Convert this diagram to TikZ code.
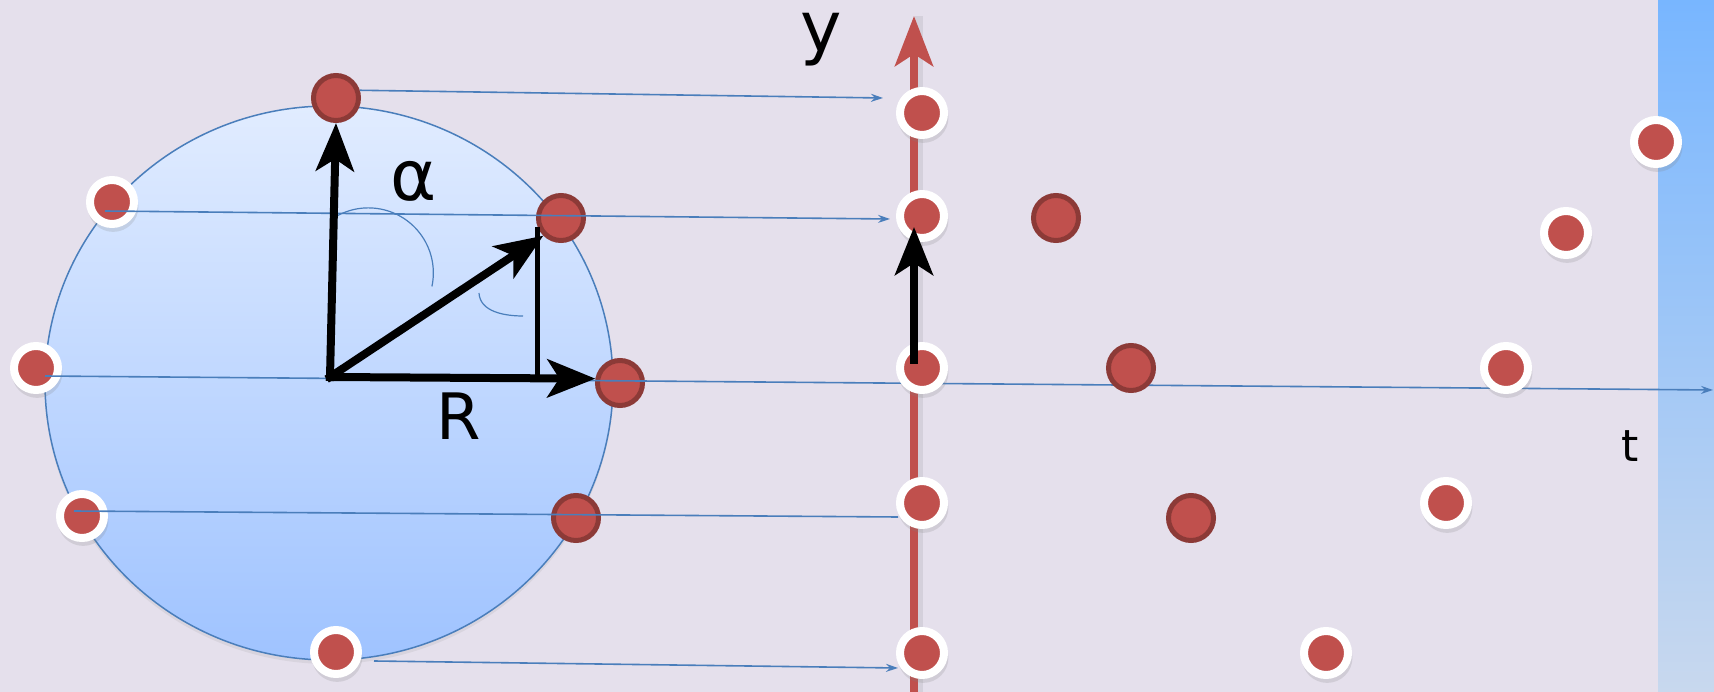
\documentclass[tikz,border=0pt]{standalone}
\usepackage{fontspec}
\setmainfont{DejaVu Sans}
\usetikzlibrary{arrows.meta,positioning,shadows}

\definecolor{bgcol}{HTML}{E5E0EC}
\definecolor{dotred}{HTML}{C0504D}
\definecolor{dotdark}{HTML}{8C3A37}
\definecolor{linecol}{HTML}{4A7EBB}
\definecolor{disctop}{HTML}{E1ECFF}
\definecolor{discbot}{HTML}{9FC3FF}
\definecolor{bandtop}{HTML}{78B6FF}
\definecolor{bandbot}{HTML}{C8D8EE}

\pgfdeclarelayer{bg}
\pgfdeclarelayer{mid}
\pgfsetlayers{bg,mid,main}

\begin{document}
\begin{tikzpicture}[
	x=1pt, y=-1pt,
	>={Stealth[length=12pt, width=8pt]},
	ball/.style={circle, draw=dotdark, fill=dotred, line width=5pt, minimum size=45pt, inner sep=0pt},
	ring/.style={circle, draw=white, fill=dotred, line width=8pt, minimum size=44pt, inner sep=0pt,
		drop shadow={shadow xshift=1pt, shadow yshift=-4pt, shadow scale=1.15, opacity=0.2}},
	proj/.style={draw=linecol, line width=1.6pt},
	vec/.style={line width=8pt, line cap=rect, -{Stealth[length=48pt, width=38pt, inset=12pt]}},
	axis/.style={draw=dotred, line width=8pt, -{Stealth[length=50pt, width=38pt, inset=12pt]}},
	lbl/.style={font=\fontsize{64}{77}\selectfont, inner sep=0pt, anchor=base}
]
\useasboundingbox (0,0) rectangle (1714,692);

\begin{pgfonlayer}{bg}
\fill[bgcol] (0,0) rectangle (1714,692);
\shade[top color=bandtop, bottom color=bandbot] (1658,0) rectangle (1714,692);
\shade[top color=disctop, bottom color=discbot, draw=linecol, line width=1.5pt,
	drop shadow={shadow xshift=0pt, shadow yshift=-4pt, opacity=0.12}]
	(329,383) ellipse [x radius=284, y radius=277];
% points on the circle
\node[ball] (c1) at (336,98) {};
\node[ball] (c2) at (561,218) {};
\node[ball] (c3) at (620,383) {};
\node[ball] (c4) at (576,518) {};
\node[ring] (c5) at (336,652) {};
\node[ring] (c6) at (82,516) {};
\node[ring] (c7) at (36,368) {};
\node[ring] (c8) at (112,202) {};
\end{pgfonlayer}

% points on the y axis and over time
\node[ring] (y1) at (922,113) {};
\node[ring] (y2) at (922,216) {};
\node[ring] (y3) at (922,368) {};
\node[ring] (y4) at (922,503) {};
\node[ring] (y5) at (922,653) {};
\node[ball] (s1) at (1056,218) {};
\node[ball] (s2) at (1131,368) {};
\node[ball] (s3) at (1191,518) {};
\node[ring] (s4) at (1326,653) {};
\node[ring] (s5) at (1446,503) {};
\node[ring] (s6) at (1506,368) {};
\node[ring] (s7) at (1566,233) {};
\node[ring] (s8) at (1656,142) {};

\coordinate (O) at (330,377);
\coordinate (tend) at (1713,390);
\coordinate (ybot) at (914,692);
\coordinate (ytop) at (914,16);

\begin{pgfonlayer}{mid}
\draw[proj, ->] (c1.18) -- ([shift={(-13,-15)}]y1.west);
\draw[proj, ->] ([shift={(-7,9)}]c8.center) -- ([shift={(-6,3)}]y2.west);
\draw[proj, ->] ([shift={(9,8)}]c7.center) -- (tend);
\draw[proj] ([shift={(-8,-5)}]c6.center) -- ([shift={(2,14)}]y4.west);
\draw[proj, ->] ([shift={(12,9)}]c5.east) -- ([shift={(2,15)}]y5.west);
% angle marks
\draw[proj, line width=1.2pt] (332,219) arc[start angle=124, end angle=-12, radius=65pt];
\draw[proj, line width=1.2pt] (479,293) .. controls (480,312) and (505,316) .. (523,316);

\draw[vec] (O) -- (c1.south);
\draw[vec] (O) -- (c3.170);
\draw[vec] (O) -- (c2.225);
\draw[line width=5pt] (c2.200) -- (c2.200 |- O);

\draw[line width=8pt, black, opacity=0.07] ([xshift=5]ybot) -- ([xshift=5]ytop);
\draw[axis] (ybot) -- (ytop);
\end{pgfonlayer}

\draw[vec] ([shift={(-8,-8)}]y3.center) -- ([shift={(-8,11)}]y2.center);

\node[lbl, font=\fontsize{70}{84}\selectfont] (ylab) at (821,52) {y};
\node[lbl, font=\fontsize{70}{84}\selectfont] (alab) at (414,201) {α};
\node[lbl] (rlab) at (459,440) {R};
\node[lbl, font=\fontsize{44}{53}\selectfont] (tlab) at (1630,461) {t};
\end{tikzpicture}
\end{document}
